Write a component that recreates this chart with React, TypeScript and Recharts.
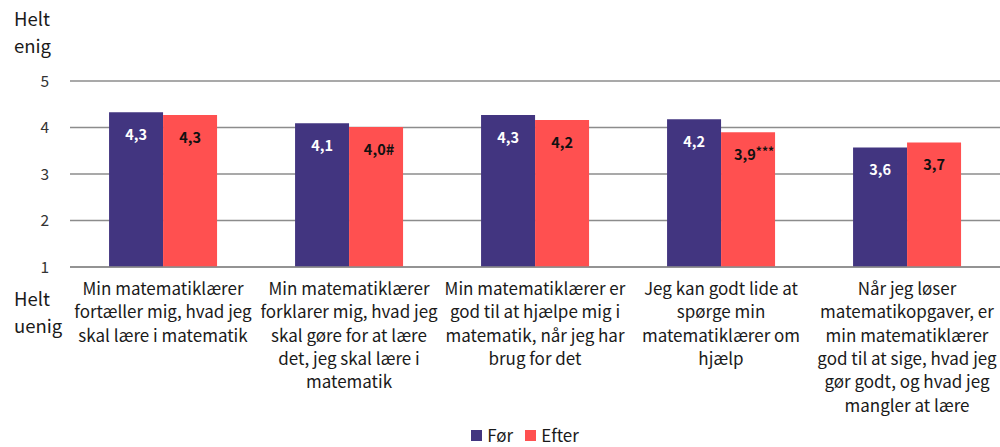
import React from 'react';
import { BarChart, Bar, XAxis, YAxis, CartesianGrid, Legend, LabelList } from 'recharts';

// Categories (line-broken as in the original)
const categoryLines: string[][] = [
  ['Min matematiklærer', 'fortæller mig, hvad jeg', 'skal lære i matematik'],
  ['Min matematiklærer', 'forklarer mig, hvad jeg', 'skal gøre for at lære', 'det, jeg skal lære i', 'matematik'],
  ['Min matematiklærer er', 'god til at hjælpe mig i', 'matematik, når jeg har', 'brug for det'],
  ['Jeg kan godt lide at', 'spørge min', 'matematiklærer om', 'hjælp'],
  ['Når jeg løser', 'matematikopgaver, er', 'min matematiklærer', 'god til at sige, hvad jeg', 'gør godt, og hvad jeg', 'mangler at lære'],
];
const beforeValues = [4.33, 4.09, 4.27, 4.18, 3.57];
const afterValues = [4.27, 4.01, 4.16, 3.9, 3.68];
const afterMarks = ['', '#', '', '***', ''];
const yTicks = [1, 2, 3, 4, 5];

const PURPLE = '#423580';
const RED = '#FF5050';
const FONT = '"Noto Sans CJK SC", "Noto Sans", sans-serif';

const data = categoryLines.map((lines, i) => ({
  idx: i,
  before: beforeValues[i],
  after: afterValues[i],
}));

const fmt = (v: number) => v.toFixed(1).replace('.', ',');

const CategoryTick = (props: any) => {
  const { x, y, payload } = props;
  const lines = categoryLines[payload.value] || [];
  return (
    <text x={x} y={y + 20} textAnchor="middle" fontFamily={FONT} fontSize={17} fill="#1a1a1a">
      {lines.map((l, i) => (
        <tspan key={i} x={x} dy={i === 0 ? 0 : 23.3}>{l}</tspan>
      ))}
    </text>
  );
};

const ValueTick = (props: any) => {
  const { y, payload } = props;
  return (
    <text x={49} y={y + 5.5} textAnchor="end" fontFamily={FONT} fontSize={15.5} fill="#333">
      {payload.value}
    </text>
  );
};

const makeLabel = (color: string, weight: number, marks: string[] | null) => (props: any) => {
  const { x, width, y, value, index } = props;
  const mark = marks ? marks[index] : '';
  return (
    <text x={x + width / 2 + (mark.length > 1 ? 6 : mark ? 3 : 0)} y={y + 28} textAnchor="middle"
      fontFamily={FONT} fontSize={14.5} fontWeight={weight} fill={color}>
      {fmt(value)}
      {mark === '***' ? <tspan fontSize={12} dy={-4}>{mark}</tspan> : mark}
    </text>
  );
};

const LegendContent = () => (
  <div style={{ display: 'flex', justifyContent: 'center', gap: 12, paddingLeft: 50, fontFamily: FONT, fontSize: 17, lineHeight: '20px', color: '#1a1a1a' }}>
    <span style={{ display: 'flex', alignItems: 'center' }}>
      <span style={{ width: 11, height: 11, background: PURPLE, marginRight: 5, display: 'inline-block' }} />Før
    </span>
    <span style={{ display: 'flex', alignItems: 'center' }}>
      <span style={{ width: 11, height: 11, background: RED, marginRight: 5, display: 'inline-block' }} />Efter
    </span>
  </div>
);

export default function App() {
  return (
    <div style={{ position: 'absolute', left: 0, top: 0, width: 1000, height: 447, background: '#fff' }}>
      <div style={{ position: 'absolute', left: 14, top: 5, fontFamily: FONT, fontSize: 18.5, lineHeight: '27px', color: '#1a1a1a' }}>
        Helt<br />enig
      </div>
      <div style={{ position: 'absolute', left: 14, top: 285, fontFamily: FONT, fontSize: 18.5, lineHeight: '27px', color: '#1a1a1a' }}>
        Helt<br />uenig
      </div>
      <BarChart width={1000} height={447} data={data} margin={{ top: 81, right: 0, bottom: 2, left: 0 }}
        barCategoryGap="21%" barGap={0}>
        <CartesianGrid vertical={false} stroke="#8c8c8c" strokeWidth={1.5} />
        <XAxis dataKey="idx" tick={<CategoryTick />} tickLine={false} axisLine={{ stroke: '#8c8c8c', strokeWidth: 1.5 }}
          height={158} interval={0} />
        <YAxis domain={[1, 5]} ticks={yTicks} width={70} tick={<ValueTick />} tickLine={false} axisLine={false} />
        <Legend verticalAlign="bottom" height={20} content={<LegendContent />} />
        <Bar dataKey="before" name="Før" fill={PURPLE} isAnimationActive={false}>
          <LabelList dataKey="before" content={makeLabel('#ffffff', 600, null)} />
        </Bar>
        <Bar dataKey="after" name="Efter" fill={RED} isAnimationActive={false}>
          <LabelList dataKey="after" content={makeLabel('#111111', 700, afterMarks)} />
        </Bar>
      </BarChart>
    </div>
  );
}
